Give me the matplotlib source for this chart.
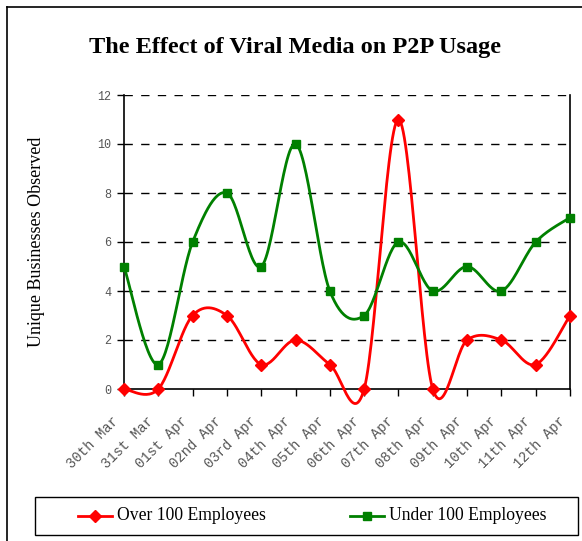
import numpy as np
import matplotlib
matplotlib.use("Agg")
from matplotlib import pyplot as plt
from matplotlib.lines import Line2D
from matplotlib.patches import Rectangle
from matplotlib.transforms import ScaledTranslation

# data
dates = ["30th Mar", "31st Mar", "01st Apr", "02nd Apr", "03rd Apr", "04th Apr",
         "05th Apr", "06th Apr", "07th Apr", "08th Apr", "09th Apr", "10th Apr",
         "11th Apr", "12th Apr"]
over_100 = [0, 0, 3, 3, 1, 2, 1, 0, 11, 0, 2, 2, 1, 3]
under_100 = [5, 1, 6, 8, 5, 10, 4, 3, 6, 4, 5, 4, 6, 7]
series_names = ["Over 100 Employees", "Under 100 Employees"]


def smooth(xs, ys, n=30):
    # excel style smoothed line (catmull-rom bezier)
    xs = np.asarray(xs, float)
    ys = np.asarray(ys, float)
    px = np.concatenate([[xs[0]], xs, [xs[-1]]])
    py = np.concatenate([[ys[0]], ys, [ys[-1]]])
    outx, outy = [], []
    t = np.linspace(0, 1, n)
    for i in range(1, len(px) - 2):
        p0 = np.array([px[i], py[i]])
        p3 = np.array([px[i + 1], py[i + 1]])
        c1 = p0 + (np.array([px[i + 1], py[i + 1]]) - np.array([px[i - 1], py[i - 1]])) / 6
        c2 = p3 - (np.array([px[i + 2], py[i + 2]]) - np.array([px[i], py[i]])) / 6
        b = ((1 - t) ** 3)[:, None] * p0 + (3 * (1 - t) ** 2 * t)[:, None] * c1 \
            + (3 * (1 - t) * t ** 2)[:, None] * c2 + (t ** 3)[:, None] * p3
        outx.extend(b[:, 0])
        outy.extend(b[:, 1])
    return outx, outy


W, H = 582, 541
fig = plt.figure(figsize=(W / 100, H / 100), dpi=100)
ax = fig.add_axes([124 / W, 1 - 389 / H, 446 / W, 294 / H])

x = np.arange(len(dates))
styles = [("#ff0000", "D", 6.5), ("#008000", "s", 6)]
for ys, (col, mk, ms) in zip([over_100, under_100], styles):
    sx, sy = smooth(x, ys)
    ax.plot(sx, sy, color=col, lw=2, clip_on=False, zorder=3)
    ax.plot(x, ys, ls="none", marker=mk, color=col, ms=ms, clip_on=False, zorder=4)

ax.set_xlim(0, len(dates) - 1)
ax.set_ylim(0, 12)
ax.set_yticks(range(0, 13, 2))
for v in range(2, 13, 2):
    ax.axhline(v, color="black", lw=1, ls=(0, (6, 6)), zorder=1)
ax.set_xticks(x)
ax.set_xticklabels([])
# rotated date labels placed by hand so they sit lower and to the left
shift = ScaledTranslation(-0.12, -0.25, fig.dpi_scale_trans)
for i, d in enumerate(dates):
    ax.text(i, 0, d, transform=ax.get_xaxis_transform() + shift, rotation=45,
            ha="right", va="top", rotation_mode="anchor",
            family="Liberation Mono", fontsize=10, color="#555555")
for lab in ax.get_yticklabels():
    lab.set_family("Liberation Mono")
    lab.set_fontsize(8.5)
    lab.set_color("#555555")
ax.tick_params(axis="both", direction="out", length=5, width=1, color="black")
ax.tick_params(axis="y", pad=4)
ax.spines["top"].set_visible(False)
for s in ["left", "bottom", "right"]:
    ax.spines[s].set_linewidth(1.2)

ax.set_ylabel("Unique Businesses Observed", family="Liberation Serif", fontsize=13)
ax.yaxis.set_label_coords(-(124 - 45) / 446, 0.5)

fig.text(295 / W, 1 - 48 / H, "The Effect of Viral Media on P2P Usage",
         family="Liberation Serif", weight="bold", fontsize=17.5, ha="center", va="center")

# legend box drawn by hand
fig.add_artist(Rectangle((35 / W, 1 - 535 / H), 543 / W, 38 / H, transform=fig.transFigure,
                         fill=False, edgecolor="black", lw=1))
ly = 1 - 516 / H
for (col, mk, ms), name, x0 in zip(styles, series_names, [78, 350]):
    fig.add_artist(Line2D([x0 / W, (x0 + 34) / W], [ly, ly], color=col, lw=2))
    fig.add_artist(Line2D([(x0 + 17) / W], [ly], color=col, marker=mk, ms=ms - 0.5))
    fig.text((x0 + 39) / W, ly, name, family="Liberation Serif", fontsize=12.7,
             va="center", ha="left")

# outer frame (left and top only)
fig.add_artist(Line2D([7 / W, 7 / W], [0, 1 - 7 / H], color="black", lw=1.2))
fig.add_artist(Line2D([7 / W, 1], [1 - 7 / H, 1 - 7 / H], color="black", lw=1.2))

plt.savefig("out.png", dpi=100)
